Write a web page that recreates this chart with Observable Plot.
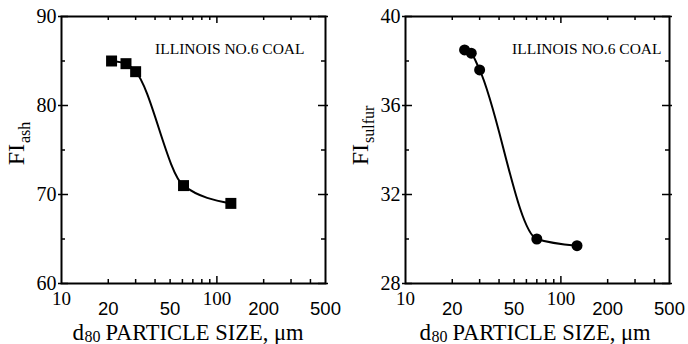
<!DOCTYPE html>
<html>
<head>
<meta charset="utf-8">
<script src="https://cdn.jsdelivr.net/npm/d3@7"></script>
<script src="https://cdn.jsdelivr.net/npm/@observablehq/plot@0.6"></script>
<style>
  body { margin: 0; background: #fff; }
  #charts { display: flex; width: 688px; height: 344px; }
</style>
</head>
<body>
<div id="charts"></div>
<script>
// Shared particle-size axis (log scale, µm)
const xDomain = [10, 500];
const xMinorTicks = [20, 30, 40, 50, 60, 70, 80, 90, 200, 300, 400];
const xMajorTicks = [100];
const xLabelsSerif = [10, 100];
const xLabelsSans = [20, 50, 200, 500];

// Flotation index for ash vs. d80 particle size
const ashSize = [21, 26, 30, 61, 123];
const ashFI = [85.0, 84.7, 83.8, 71.0, 69.0];
const ashDomain = [60, 90];
const ashMajor = [60, 70, 80, 90];
const ashMinor = [65, 75, 85];

// Flotation index for sulfur vs. d80 particle size
const sulfurSize = [24, 26.5, 30, 70, 127];
const sulfurFI = [38.5, 38.35, 37.6, 30.0, 29.7];
const sulfurDomain = [28, 40];
const sulfurMajor = [28, 32, 36, 40];
const sulfurMinor = [30, 34, 38];

const coalLabel = "ILLINOIS NO.6 COAL";

const serif = "Liberation Serif";
const sans = "Liberation Sans";

function panel({size, fi, domain, major, minor, symbol, r, sub, coalDx, titleDx}) {
  const W = 344, H = 344, mL = 61, mR = 19, mT = 16, mB = 61;
  const iw = W - mL - mR, ih = H - mT - mB;
  const rows = size.map((s, i) => ({size: s, fi: fi[i]}));
  const svg = Plot.plot({
    width: W, height: H,
    marginLeft: mL, marginRight: mR, marginTop: mT, marginBottom: mB,
    x: {type: "log", domain: xDomain, axis: null},
    y: {domain, axis: null},
    style: {fontFamily: serif, background: "white", color: "black", overflow: "visible"},
    marks: [
      Plot.frame({stroke: "black", strokeWidth: 2}),
      // inward ticks on all four sides
      Plot.tickX(xMinorTicks, {x: d => d, insetTop: ih - 4, strokeWidth: 1.5}),
      Plot.tickX(xMinorTicks, {x: d => d, insetBottom: ih - 4, strokeWidth: 1.5}),
      Plot.tickX(xMajorTicks, {x: d => d, insetTop: ih - 7, strokeWidth: 1.5}),
      Plot.tickX(xMajorTicks, {x: d => d, insetBottom: ih - 7, strokeWidth: 1.5}),
      Plot.tickY(major, {y: d => d, insetLeft: -3, insetRight: iw - 7, strokeWidth: 1.5}),
      Plot.tickY(major, {y: d => d, insetRight: -3, insetLeft: iw - 7, strokeWidth: 1.5}),
      Plot.tickY(minor, {y: d => d, insetRight: iw - 4, strokeWidth: 1.5}),
      Plot.tickY(minor, {y: d => d, insetLeft: iw - 4, strokeWidth: 1.5}),
      // tick labels
      Plot.text(major, {y: d => d, text: d => `${d}`, frameAnchor: "left", textAnchor: "end", dx: -5, fontSize: 20, fontFamily: serif}),
      Plot.text(xLabelsSerif, {x: d => d, text: d => `${d}`, frameAnchor: "bottom", lineAnchor: "top", dy: 8, fontSize: 19, fontFamily: serif}),
      Plot.text(xLabelsSans, {x: d => d, text: d => `${d}`, frameAnchor: "bottom", lineAnchor: "top", dy: 18, fontSize: 18.5, fontFamily: sans}),
      // data
      Plot.line(rows, {x: "size", y: "fi", curve: "monotone-x", stroke: "black", strokeWidth: 2}),
      Plot.dot(rows, {x: "size", y: "fi", symbol, r, fill: "black"}),
      // annotation
      Plot.text([coalLabel], {text: d => d, frameAnchor: "top-right", textAnchor: "end", lineAnchor: "bottom", dx: coalDx, dy: 37, fontSize: 15.5, fontFamily: serif}),
      // y title: FI with subscript
      Plot.text(["FI"], {text: d => d, frameAnchor: "left", rotate: -90, textAnchor: "end", lineAnchor: "bottom", dx: -38, dy: -6, fontSize: 24, fontFamily: serif, ariaLabel: "fi-title"}),
      Plot.text([sub], {text: d => d, frameAnchor: "left", rotate: -90, textAnchor: "start", lineAnchor: "bottom", dx: -32, dy: -7, fontSize: 16, fontFamily: serif}),
      // x title: d80 PARTICLE SIZE, µm
      Plot.text(["d"], {text: d => d, frameAnchor: "bottom-left", textAnchor: "start", lineAnchor: "bottom", dx: 11 + titleDx, dy: 56, fontSize: 23, fontFamily: serif}),
      Plot.text(["80"], {text: d => d, frameAnchor: "bottom-left", textAnchor: "start", lineAnchor: "bottom", dx: 23 + titleDx, dy: 58, fontSize: 16, fontFamily: serif}),
      Plot.text(["PARTICLE SIZE, \u03bcm"], {text: d => d, frameAnchor: "bottom-left", textAnchor: "start", lineAnchor: "bottom", dx: 44 + titleDx, dy: 56, fontSize: 22.5, fontFamily: serif})
    ]
  });
  const fiText = svg.querySelector('g[aria-label="fi-title"] text');
  if (fiText) fiText.style.letterSpacing = "4px";
  return svg;
}

const host = document.getElementById("charts");
host.append(
  panel({size: ashSize, fi: ashFI, domain: ashDomain, major: ashMajor, minor: ashMinor,
         symbol: "square", r: 6.2, sub: "ash", coalDx: -21, titleDx: 0}),
  panel({size: sulfurSize, fi: sulfurFI, domain: sulfurDomain, major: sulfurMajor, minor: sulfurMinor,
         symbol: "circle", r: 5.5, sub: "sulfur", coalDx: -8, titleDx: 3})
);
</script>
</body>
</html>
